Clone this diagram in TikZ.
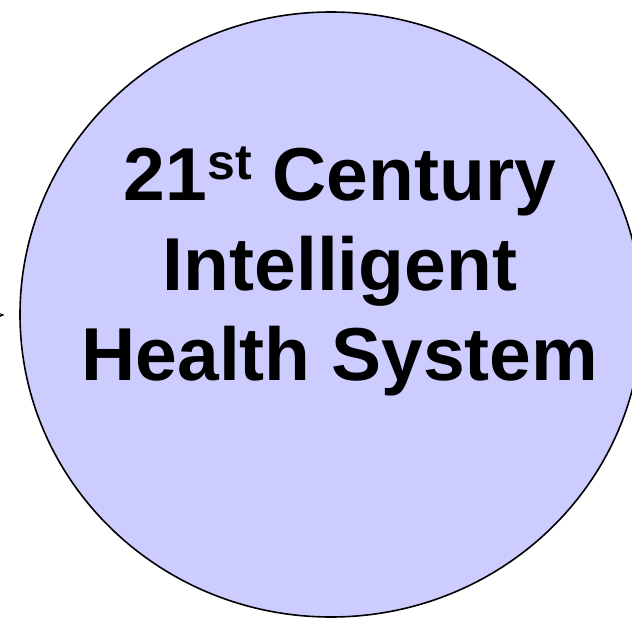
\documentclass[tikz,border=0pt]{standalone}
\usepackage{fontspec}
\setmainfont{Liberation Sans}
\usetikzlibrary{shapes.geometric,arrows.meta}
\definecolor{lav}{HTML}{CCCCFF}
\tikzset{
  bigtext/.style={anchor=base, inner sep=0pt, font=\fontsize{75}{90}\selectfont\bfseries},
  globe/.style={ellipse, draw=black, fill=lav, line width=1.6pt, inner sep=0pt,
     minimum width=622pt, minimum height=605pt},
}
\begin{document}
\begin{tikzpicture}[x=1pt,y=-1pt]
\useasboundingbox (0,0) rectangle (632,618);
\clip (0,0) rectangle (632,618);
\node[globe] (circ) at (331,314.5) {};
\node[bigtext] (l1) at (340,200) {21\raisebox{21pt}{\fontsize{50}{60}\selectfont\bfseries st} Century};
\node[bigtext] (l2) at (340,290) {Intelligent};
\node[bigtext] (l3) at (340,380) {Health System};
\coordinate (src) at (-10,315);
\coordinate (tip) at (4.5,315);
\draw[-{Stealth[length=5pt,width=4pt]}, line width=0.6pt] (src) -- (tip);
\end{tikzpicture}
\end{document}
